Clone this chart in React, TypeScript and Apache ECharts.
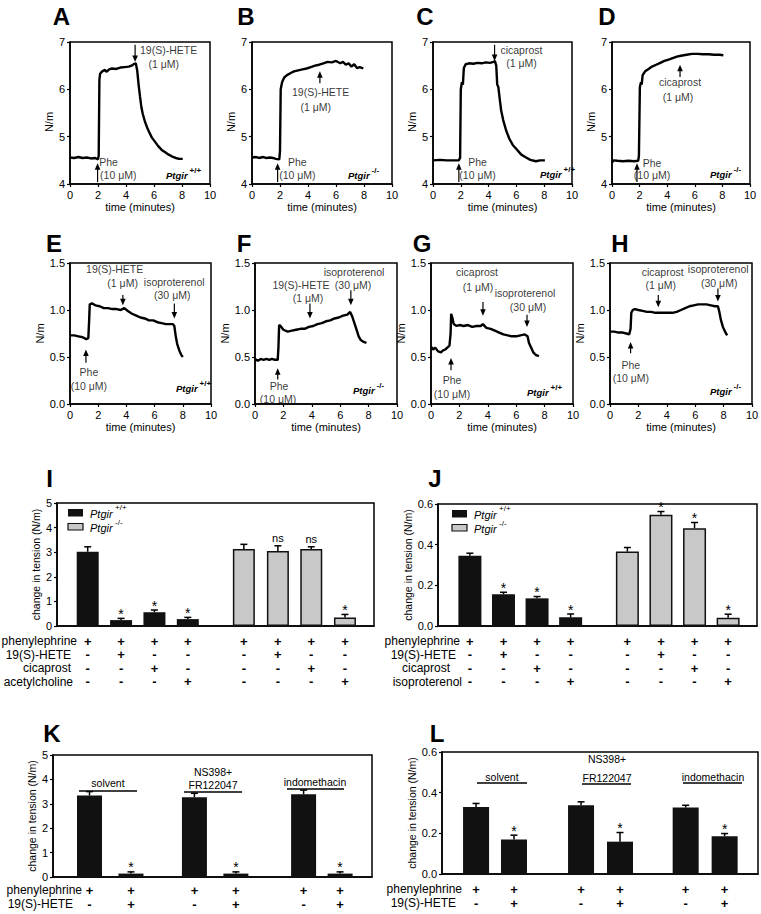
import React, { useEffect, useRef } from 'react';
import * as echarts from 'echarts';

const FONT = '"Liberation Sans", Arial, Helvetica, sans-serif';

// ---------------- DATA: tension traces [time (min), tension (N/m)] ----------------
const traceA: number[][] = [[0,4.56],[0.3,4.55],[0.6,4.57],[0.9,4.55],[1.2,4.56],[1.5,4.54],[1.8,4.55],[2.0,4.52],[2.05,4.6],[2.1,6.2],[2.15,6.33],[2.3,6.38],[2.5,6.41],[2.6,6.37],[2.8,6.42],[3.0,6.44],[3.3,6.43],[3.6,6.46],[3.9,6.47],[4.2,6.48],[4.4,6.5],[4.6,6.54],[4.7,6.55],[4.8,6.4],[4.9,6.1],[5.0,5.85],[5.1,5.62],[5.2,5.48],[5.35,5.32],[5.5,5.2],[5.65,5.1],[5.85,4.98],[6.05,4.9],[6.3,4.8],[6.55,4.72],[6.8,4.67],[7.05,4.62],[7.3,4.58],[7.55,4.55],[7.8,4.53],[8.05,4.53]];
const traceB: number[][] = [[0,4.56],[0.3,4.57],[0.5,4.55],[0.8,4.57],[1.0,4.55],[1.3,4.56],[1.5,4.55],[1.7,4.53],[1.95,4.52],[2.0,4.7],[2.05,6.0],[2.15,6.15],[2.3,6.25],[2.5,6.3],[2.8,6.35],[3.0,6.38],[3.3,6.4],[3.6,6.42],[3.9,6.44],[4.2,6.47],[4.5,6.5],[4.8,6.52],[5.1,6.55],[5.4,6.58],[5.7,6.57],[6.0,6.6],[6.3,6.55],[6.5,6.58],[6.7,6.52],[6.9,6.55],[7.1,6.48],[7.3,6.53],[7.5,6.45],[7.7,6.47],[7.95,6.44]];
const traceC: number[][] = [[0,4.5],[0.5,4.51],[1.0,4.5],[1.5,4.5],[1.85,4.5],[1.95,4.55],[2.0,6.0],[2.08,6.15],[2.15,6.1],[2.22,6.45],[2.35,6.53],[2.6,6.55],[2.9,6.54],[3.2,6.56],[3.5,6.55],[3.8,6.57],[4.1,6.56],[4.35,6.58],[4.45,6.6],[4.55,6.5],[4.62,6.1],[4.7,6.05],[4.8,5.8],[4.9,5.56],[5.05,5.35],[5.25,5.14],[5.5,4.95],[5.75,4.82],[6.0,4.74],[6.35,4.62],[6.7,4.56],[7.0,4.51],[7.4,4.48],[7.7,4.5],[8.05,4.5]];
const traceD: number[][] = [[0,4.45],[0.1,4.5],[0.4,4.49],[0.8,4.48],[1.2,4.49],[1.6,4.48],[1.9,4.49],[1.95,4.6],[2.02,6.05],[2.1,6.15],[2.15,6.1],[2.22,6.3],[2.4,6.38],[2.6,6.42],[2.9,6.48],[3.2,6.52],[3.5,6.56],[3.8,6.6],[4.1,6.63],[4.4,6.66],[4.7,6.69],[5.0,6.71],[5.4,6.73],[5.8,6.75],[6.2,6.75],[6.6,6.74],[7.0,6.74],[7.4,6.73],[7.8,6.73],[8.07,6.72]];
const traceE: number[][] = [[0,0.73],[0.3,0.73],[0.6,0.72],[0.9,0.71],[1.15,0.69],[1.3,0.7],[1.36,0.9],[1.4,1.06],[1.55,1.07],[1.8,1.05],[2.1,1.04],[2.4,1.02],[2.7,1.02],[3.0,1.01],[3.3,1.01],[3.6,1.0],[3.85,1.02],[4.1,0.99],[4.4,0.96],[4.7,0.94],[5.0,0.92],[5.3,0.91],[5.6,0.89],[5.9,0.89],[6.2,0.87],[6.5,0.86],[6.8,0.85],[7.1,0.85],[7.3,0.85],[7.4,0.83],[7.5,0.72],[7.6,0.64],[7.75,0.57],[7.9,0.52],[8.0,0.5]];
const traceF: number[][] = [[0,0.48],[0.2,0.46],[0.4,0.48],[0.6,0.47],[0.8,0.48],[1.0,0.47],[1.2,0.48],[1.4,0.47],[1.6,0.47],[1.65,0.6],[1.7,0.84],[1.8,0.83],[2.0,0.79],[2.3,0.77],[2.6,0.78],[2.9,0.79],[3.2,0.8],[3.5,0.8],[3.8,0.82],[4.1,0.83],[4.4,0.85],[4.7,0.86],[5.0,0.88],[5.3,0.89],[5.6,0.91],[5.9,0.92],[6.2,0.94],[6.5,0.95],[6.7,0.98],[6.85,0.93],[7.0,0.86],[7.15,0.79],[7.3,0.72],[7.45,0.68],[7.65,0.66],[7.85,0.65]];
const traceG: number[][] = [[0,0.61],[0.15,0.58],[0.3,0.6],[0.5,0.56],[0.7,0.55],[0.85,0.57],[1.0,0.58],[1.15,0.6],[1.3,0.62],[1.38,0.75],[1.42,0.96],[1.5,0.92],[1.6,0.85],[1.8,0.83],[2.0,0.84],[2.3,0.83],[2.6,0.84],[2.9,0.82],[3.2,0.83],[3.5,0.83],[3.65,0.85],[3.9,0.81],[4.2,0.8],[4.5,0.78],[4.8,0.76],[5.1,0.74],[5.4,0.73],[5.7,0.72],[6.0,0.72],[6.3,0.73],[6.6,0.74],[6.8,0.72],[6.9,0.65],[7.05,0.6],[7.2,0.55],[7.4,0.52],[7.6,0.51]];
const traceH: number[][] = [[0,0.77],[0.3,0.77],[0.6,0.76],[0.9,0.76],[1.15,0.75],[1.35,0.74],[1.45,0.8],[1.5,0.97],[1.6,1.0],[1.75,1.01],[2.0,1.0],[2.3,0.99],[2.6,0.98],[2.9,0.98],[3.2,0.97],[3.5,0.97],[3.8,0.97],[4.1,0.97],[4.4,0.97],[4.7,0.98],[5.0,1.0],[5.3,1.02],[5.6,1.04],[5.9,1.05],[6.2,1.06],[6.5,1.06],[6.8,1.06],[7.1,1.05],[7.4,1.04],[7.6,1.04],[7.7,0.98],[7.8,0.9],[7.95,0.82],[8.1,0.77],[8.25,0.73]];

// arrows: [time, from level, to level (head)]
const arrowsA = [[1.97,4.04,4.44],[4.65,6.94,6.58]];
const arrowsB = [[1.83,4.04,4.44],[4.85,6.13,6.38]];
const arrowsC = [[1.86,4.04,4.44],[4.43,6.94,6.6]];
const arrowsD = [[1.81,4.04,4.44],[4.93,6.26,6.52]];
const arrowsE = [[1.13,0.44,0.58],[3.75,1.16,1.05],[7.4,1.07,0.91]];
const arrowsF = [[1.6,0.26,0.38],[3.87,1.07,0.91],[6.75,1.21,1.05]];
const arrowsG = [[1.41,0.36,0.49],[3.66,1.085,0.94],[6.76,0.95,0.82]];
const arrowsH = [[1.45,0.54,0.66],[3.4,1.16,1.03],[7.6,1.23,1.09]];

// annotation texts: [time, level, text]
const notesA: any[] = [[2.75,4.47,'Phe'],[3.45,4.19,'(10 μM)'],[7.04,6.83,'19(S)-HETE'],[6.69,6.53,'(1 μM)']];
const notesB: any[] = [[3.24,4.47,'Phe'],[3.24,4.19,'(10 μM)'],[4.9,5.95,'19(S)-HETE'],[4.55,5.63,'(1 μM)']];
const notesC: any[] = [[3.2,4.47,'Phe'],[3.2,4.19,'(10 μM)'],[6.36,6.83,'cicaprost'],[6.36,6.56,'(1 μM)']];
const notesD: any[] = [[2.9,4.45,'Phe'],[2.9,4.19,'(10 μM)'],[4.93,6.15,'cicaprost'],[4.78,5.84,'(1 μM)']];
const notesE: any[] = [[1.34,0.34,'Phe'],[1.34,0.19,'(10 μM)'],[3.17,1.44,'19(S)-HETE'],[3.73,1.29,'(1 μM)'],[7.39,1.30,'isoproterenol'],[7.25,1.16,'(30 μM)']];
const notesF: any[] = [[1.69,0.19,'Phe'],[1.62,0.05,'(10 μM)'],[3.24,1.27,'19(S)-HETE'],[3.73,1.13,'(1 μM)'],[6.97,1.40,'isoproterenol'],[6.9,1.27,'(30 μM)']];
const notesG: any[] = [[1.48,0.26,'Phe'],[1.48,0.11,'(10 μM)'],[3.24,1.40,'cicaprost'],[3.31,1.245,'(1 μM)'],[6.62,1.18,'isoproterenol'],[6.83,1.03,'(30 μM)']];
const notesH: any[] = [[1.47,0.41,'Phe'],[1.47,0.28,'(10 μM)'],[3.71,1.40,'cicaprost'],[3.57,1.27,'(1 μM)'],[7.62,1.44,'isoproterenol'],[7.69,1.29,'(30 μM)']];

const lineGenotypes = ['+/+','-/-','+/+','-/-','+/+','-/-','+/+','-/-'];
const timeTicks = { min: 0, max: 10, interval: 2 };
const tensionTicksTop = { min: 4, max: 7, interval: 1 };
const tensionTicksBottom = { min: 0, max: 1.5, interval: 0.5 };

// ---------------- DATA: bar panels ----------------
const iPositions = [0.92,1.92,2.92,3.92,5.6,6.62,7.62,8.63];
const iValues = [3.02,0.24,0.56,0.28,3.13,3.05,3.13,0.35];
const iErrors = [0.2,0.07,0.09,0.07,0.19,0.21,0.09,0.12];
const iMarks = ['','*','*','*','','ns','ns','*'];
const iGenotype = ['wt','wt','wt','wt','ko','ko','ko','ko'];
const iTable: [string,string][] = [['phenylephrine','++++++++'],['19(S)-HETE','-+---+--'],['cicaprost','--+---+-'],['acetylcholine','---+---+']];

const jPositions = [0.95,1.95,2.95,3.95,5.64,6.64,7.64,8.64];
const jValues = [0.345,0.156,0.136,0.043,0.366,0.547,0.481,0.041];
const jErrors = [0.013,0.01,0.009,0.016,0.02,0.016,0.028,0.017];
const jMarks = ['','*','*','*','','*','*','*'];
const jGenotype = ['wt','wt','wt','wt','ko','ko','ko','ko'];
const jTable: [string,string][] = [['phenylephrine','++++++++'],['19(S)-HETE','-+---+--'],['cicaprost','--+---+-'],['isoproterenol','---+---+']];

const kPositions = [1.03,2.2,3.99,5.16,7.07,8.1];
const kValues = [3.34,0.14,3.27,0.14,3.39,0.14];
const kErrors = [0.16,0.07,0.16,0.07,0.17,0.07];
const kMarks = ['','*','','*','','*'];
const kTable: [string,string][] = [['phenylephrine','++++++'],['19(S)-HETE','-+-+-+']];

const lPositions = [0.97,2.05,3.96,5.07,6.94,8.05];
const lValues = [0.33,0.17,0.338,0.159,0.327,0.186];
const lErrors = [0.017,0.021,0.017,0.045,0.011,0.013];
const lMarks = ['','*','','*','','*'];
const lTable: [string,string][] = [['phenylephrine','++++++'],['19(S)-HETE','-+-+-+']];

const groupNames = [['solvent'],['NS398+','FR122047'],['indomethacin']];
const tensionIK = { min: 0, max: 5, interval: 1 };
const tensionJL = { min: 0, max: 0.6, interval: 0.2 };

// ---------------- LAYOUT (pixels) ----------------
const lineLayout = [
  { grid: [70,42,140,142], letter: [61.5,16.5], geno: [166,175] },
  { grid: [252,42,140,142], letter: [246,16.5], geno: [348,175] },
  { grid: [433,42,139,142], letter: [425,16.5], geno: [540,174] },
  { grid: [612,42,138,142], letter: [607,16.5], geno: [710,174] },
  { grid: [70,263,141,141], letter: [54,243], geno: [176,388] },
  { grid: [255,263,142,141], letter: [244,243], geno: [353,390] },
  { grid: [431,263,142,141], letter: [422,243], geno: [527,392] },
  { grid: [610,263,142,141], letter: [620,243], geno: [710,391] },
];
const barLayout = [
  { grid: [57,503,317,123], letter: [49.5,478], xMax: 9.5, barWidth: 22, nameGap: 15,
    legend: [68,509], rowY: [641,654.5,668,681.5], labelRight: [77,71,71,73], font: 12 },
  { grid: [438,504,319,122], letter: [435,478], xMax: 9.5, barWidth: 23, nameGap: 19,
    legend: [452,510], rowY: [641,654.5,668,681.5], labelRight: [460,456,450,462], font: 12 },
  { grid: [53,755,319,122], letter: [52,733], xMax: 9, barWidth: 25, nameGap: 12,
    rowY: [890,904], labelRight: [82,73], font: 12,
    groups: [ { cx: 108, ys: [783], line: [79,137,791] }, { cx: 213, ys: [772,785], line: [184,242,792] }, { cx: 315, ys: [782], line: [287,344,789] } ] },
  { grid: [442,752,316,122], letter: [437,733], xMax: 9, barWidth: 26, nameGap: 18,
    rowY: [889,903], labelRight: [462,456], font: 12,
    groups: [ { cx: 502, ys: [777], line: [477,527,783] }, { cx: 607, ys: [759,778], line: [582,631,784] }, { cx: 713, ys: [777], line: [683,742,783] } ] },
];

const lineData = [
  { trace: traceA, arrows: arrowsA, notes: notesA },
  { trace: traceB, arrows: arrowsB, notes: notesB },
  { trace: traceC, arrows: arrowsC, notes: notesC },
  { trace: traceD, arrows: arrowsD, notes: notesD },
  { trace: traceE, arrows: arrowsE, notes: notesE },
  { trace: traceF, arrows: arrowsF, notes: notesF },
  { trace: traceG, arrows: arrowsG, notes: notesG },
  { trace: traceH, arrows: arrowsH, notes: notesH },
];
const barData = [
  { pos: iPositions, val: iValues, err: iErrors, marks: iMarks, geno: iGenotype, table: iTable, ticks: tensionIK },
  { pos: jPositions, val: jValues, err: jErrors, marks: jMarks, geno: jGenotype, table: jTable, ticks: tensionJL },
  { pos: kPositions, val: kValues, err: kErrors, marks: kMarks, geno: null, table: kTable, ticks: tensionIK },
  { pos: lPositions, val: lValues, err: lErrors, marks: lMarks, geno: null, table: lTable, ticks: tensionJL },
];

const BLACK = '#111';
const GRAY = '#c8c8c8';

function axisCommon() {
  return {
    axisLine: { show: true, onZero: false, lineStyle: { color: '#000', width: 1.5 } },
    axisTick: { show: true, length: 3, lineStyle: { color: '#000', width: 1.2 } },
    axisLabel: { color: '#000', fontSize: 11, fontFamily: FONT, margin: 5 },
    splitLine: { show: false },
    nameTextStyle: { color: '#000', fontSize: 11, fontFamily: FONT },
  };
}

function buildOption() {
  const grid: any[] = [];
  const xAxis: any[] = [];
  const yAxis: any[] = [];
  const series: any[] = [];

  lineLayout.forEach((L, i) => {
    grid.push({ left: L.grid[0], top: L.grid[1], width: L.grid[2], height: L.grid[3], show: true,
      borderColor: '#000', borderWidth: 1.5, backgroundColor: 'transparent', containLabel: false, outerBoundsMode: 'none' });
    const c = axisCommon();
    xAxis.push({ ...c, gridIndex: i, type: 'value', ...timeTicks,
      name: 'time (minutes)', nameLocation: 'middle', nameGap: 17 });
    const yt = i < 4 ? tensionTicksTop : tensionTicksBottom;
    yAxis.push({ ...c, gridIndex: i, type: 'value', ...yt,
      axisLabel: { ...c.axisLabel, formatter: (v: number) => (i < 4 ? String(v) : v.toFixed(1)) },
      name: 'N/m', nameLocation: 'middle', nameGap: 14,
      nameTextStyle: { ...c.nameTextStyle, padding: i < 4 ? [0, 18, 0, 0] : [0, 0, 0, 0] } });
    const d = lineData[i];
    series.push({
      type: 'line', xAxisIndex: i, yAxisIndex: i, data: d.trace, showSymbol: false, symbol: 'none',
      lineStyle: { color: '#000', width: 2.4 }, silent: true, z: 3,
    });
    series.push({
      type: 'custom', xAxisIndex: i, yAxisIndex: i, silent: true, z: 4,
      data: d.arrows,
      renderItem: (params: any, api: any) => {
        const p1 = api.coord([api.value(0), api.value(1)]);
        const p2 = api.coord([api.value(0), api.value(2)]);
        const dir = p2[1] > p1[1] ? 1 : -1;
        const hl = 6.5, hw = 2.8;
        return { type: 'group', children: [
          { type: 'line', shape: { x1: p1[0], y1: p1[1], x2: p2[0], y2: p2[1] - dir * hl * 0.6 }, style: { stroke: '#000', lineWidth: 1.2 } },
          { type: 'polygon', shape: { points: [[p2[0], p2[1]], [p2[0] - hw, p2[1] - dir * hl], [p2[0] + hw, p2[1] - dir * hl]] }, style: { fill: '#000' } },
        ] };
      },
    });
    series.push({
      type: 'scatter', xAxisIndex: i, yAxisIndex: i, symbolSize: 0, silent: true, z: 4,
      data: d.notes.map(([x, y, t]: any) => ({ value: [x, y], name: t })),
      label: { show: true, position: 'inside', formatter: (p: any) => p.name, color: '#000', fontSize: 10.5, fontFamily: FONT },
    });
  });

  barLayout.forEach((L, k) => {
    const gi = 8 + k;
    const d = barData[k];
    grid.push({ left: L.grid[0], top: L.grid[1], width: L.grid[2], height: L.grid[3], show: true,
      borderColor: '#000', borderWidth: 1.5, backgroundColor: 'transparent', containLabel: false, outerBoundsMode: 'none' });
    const c = axisCommon();
    xAxis.push({ gridIndex: gi, type: 'value', min: 0, max: L.xMax, show: true,
      axisLine: { show: true, onZero: false, lineStyle: { color: '#000', width: 1.5 } },
      axisTick: { show: false }, axisLabel: { show: false }, splitLine: { show: false } });
    yAxis.push({ ...c, gridIndex: gi, type: 'value', ...d.ticks,
      axisLabel: { ...c.axisLabel, formatter: (v: number) => (d.ticks.max > 1 ? String(v) : v.toFixed(1)) },
      name: 'change in tension (N/m)', nameLocation: 'middle', nameGap: L.nameGap,
      nameTextStyle: { ...c.nameTextStyle, fontSize: 10.5 } });
    series.push({
      type: 'bar', xAxisIndex: gi, yAxisIndex: gi, barWidth: L.barWidth, silent: true, z: 3,
      data: d.pos.map((x, j) => ({
        value: [x, d.val[j]],
        itemStyle: d.geno && d.geno[j] === 'ko'
          ? { color: GRAY, borderColor: BLACK, borderWidth: 1.5 }
          : { color: BLACK, borderWidth: 0 },
      })),
    });
    series.push({
      type: 'custom', xAxisIndex: gi, yAxisIndex: gi, silent: true, z: 5,
      data: d.pos.map((x, j) => [x, d.val[j], d.val[j] + d.err[j]]),
      renderItem: (params: any, api: any) => {
        const j = params.dataIndex;
        const b = api.coord([api.value(0), api.value(1)]);
        const t = api.coord([api.value(0), api.value(2)]);
        const ch: any[] = [
          { type: 'line', shape: { x1: b[0], y1: b[1], x2: t[0], y2: t[1] }, style: { stroke: '#000', lineWidth: 1.5 } },
          { type: 'line', shape: { x1: t[0] - 3.5, y1: t[1], x2: t[0] + 3.5, y2: t[1] }, style: { stroke: '#000', lineWidth: 1.5 } },
        ];
        const m = d.marks[j];
        if (m) {
          ch.push({ type: 'text', style: { text: m, x: t[0], y: m === '*' ? t[1] - 4.5 : t[1] - 7.7,
            align: 'center', verticalAlign: 'middle', fontSize: m === '*' ? 14 : 11, fontFamily: FONT, fill: '#000' } });
        }
        return { type: 'group', children: ch };
      },
    });
  });

  return { animation: false, backgroundColor: '#fff', textStyle: { fontFamily: FONT }, grid, xAxis, yAxis, series };
}

function txt(x: number, y: number, text: string, o: any = {}) {
  return { type: 'text', x, y, silent: true, z: 10,
    style: { text, fill: '#000', fontFamily: FONT, fontSize: 11, align: 'left', verticalAlign: 'middle', ...o } };
}

function ptgir(x: number, y: number, sup: string, bold: boolean, size: number, supGap: number, supRise: number) {
  return [
    txt(x, y, 'Ptgir', { fontStyle: 'italic', fontWeight: bold ? 'bold' : 'normal', fontSize: size }),
    txt(x + supGap, y - supRise, sup, { fontWeight: bold ? 'bold' : 'normal', fontSize: 8 }),
  ];
}

function buildGraphic(chart: any) {
  const g: any[] = [];
  const lineLetters = 'ABCDEFGH';
  lineLayout.forEach((L, i) => {
    g.push(txt(L.letter[0], L.letter[1], lineLetters[i], { fontSize: 24, fontWeight: 'bold', align: 'center' }));
    g.push(...ptgir(L.geno[0], L.geno[1], lineGenotypes[i], true, 9.5, 23.5, 5));
  });
  const barLetters = 'IJKL';
  barLayout.forEach((L: any, k) => {
    const gi = 8 + k;
    const d = barData[k];
    g.push(txt(L.letter[0], L.letter[1], barLetters[k], { fontSize: 24, fontWeight: 'bold', align: 'center' }));
    if (L.legend) {
      const [lx, ly] = L.legend;
      g.push({ type: 'rect', silent: true, z: 10, shape: { x: lx, y: ly, width: 15, height: 7.5 }, style: { fill: BLACK } });
      g.push({ type: 'rect', silent: true, z: 10, shape: { x: lx, y: ly + 14.5, width: 15, height: 6.5 }, style: { fill: GRAY, stroke: BLACK, lineWidth: 1.2 } });
      g.push(...ptgir(lx + 22, ly + 4.5, '+/+', false, 11, 25, 6));
      g.push(...ptgir(lx + 22, ly + 18.5, '-/-', false, 11, 25, 5));
    }
    d.table.forEach(([label, signs], r) => {
      g.push(txt(L.labelRight[r], L.rowY[r], label, { align: 'right', fontSize: L.font }));
      signs.split('').forEach((s, cidx) => {
        const px = chart.convertToPixel({ gridIndex: gi }, [d.pos[cidx], 0])[0];
        g.push(txt(px, L.rowY[r], s, { align: 'center', fontSize: 13, fontWeight: 'bold' }));
      });
    });
    if (L.groups) {
      L.groups.forEach((G: any, gidx: number) => {
        groupNames[gidx].forEach((name, li) => g.push(txt(G.cx, G.ys[li], name, { align: 'center', fontSize: 10.5 })));
        g.push({ type: 'line', silent: true, z: 10, shape: { x1: G.line[0], y1: G.line[2], x2: G.line[1], y2: G.line[2] }, style: { stroke: '#000', lineWidth: 1.3 } });
      });
    }
  });
  return g;
}

export default function App() {
  const ref = useRef<HTMLDivElement>(null);
  useEffect(() => {
    const chart = echarts.init(ref.current as HTMLDivElement, null, { renderer: 'svg' });
    chart.setOption(buildOption() as any);
    chart.setOption({ graphic: buildGraphic(chart) } as any);
    return () => chart.dispose();
  }, []);
  return <div ref={ref} style={{ position: 'absolute', left: 0, top: 0, width: 761, height: 914, background: '#fff' }} />;
}
